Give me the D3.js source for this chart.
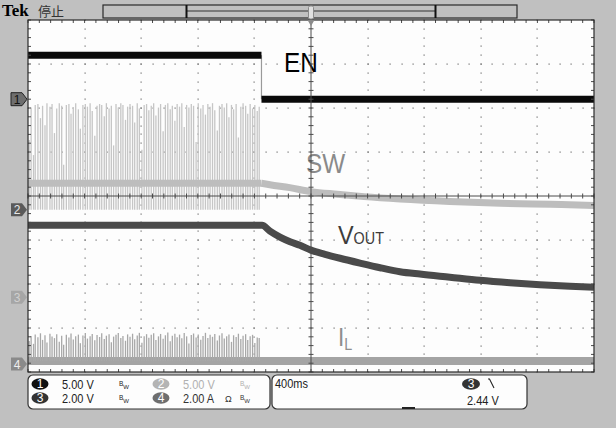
<!DOCTYPE html>
<html>
<head>
<meta charset="utf-8">
<script src="https://cdn.jsdelivr.net/npm/d3@7"></script>
<style>
  body { margin: 0; background: #c0c0c0; }
  svg { display: block; font-family: "Liberation Sans", Arial, sans-serif; }
</style>
</head>
<body>
<svg id="scope" width="616" height="428"></svg>
<script>
// ---- acquisition settings ----
const timeDomain = [-2000, 2000];          // ms, 400 ms/div, trigger centred
const timePerDiv = 400;
const channelNames = ["1", "2", "3", "4"];
const channelScale = [5.0, 5.0, 2.0, 2.0];  // V/div (A/div for ch4)
const channelUnit = ["V", "V", "V", "A"];
const channelOffset = [2.20, -0.31, -2.30, -3.82]; // ground marker position, divisions from centre
const triggerLevel = 2.44;
const triggerText = "2.44 V";
const timebaseText = "400ms";

// ---- ch1: EN ----
const enLevels = [5.0, 0.0];      // V before / after the edge
const enEdge = -350;              // ms

// ---- ch2: SW ----
const swIdleLevel = 3.0;          // V, node voltage between bursts
const swPulseT = [-1992,-1978,-1961,-1949,-1930,-1912,-1897,-1880,-1866,-1845,-1830,-1813,-1797,-1779,-1762,-1748,-1729,-1711,-1696,-1680,-1663,-1644,-1630,-1612,-1595,-1580,-1561,-1546,-1528,-1512,-1494,-1479,-1461,-1446,-1427,-1411,-1395,-1378,-1362,-1344,-1329,-1311,-1296,-1279,-1261,-1246,-1228,-1213,-1195,-1179,-1162,-1146,-1129,-1112,-1096,-1078,-1063,-1045,-1029,-1012,-995,-980,-962,-946,-929,-913,-896,-879,-863,-846,-830,-812,-797,-779,-763,-746,-729,-713,-696,-680,-662,-647,-629,-613,-596,-580,-562,-547,-529,-513,-496,-480,-462,-447,-430,-413,-397,-380,-366];
const swPulseV = [7.9,11.6,6.2,11.9,12.0,10.4,11.8,9.6,12.1,11.7,12.0,8.7,11.5,12.1,11.8,5.1,11.9,12.0,10.9,11.6,12.1,11.4,9.2,11.9,12.0,11.7,12.1,11.2,8.4,11.8,12.0,11.9,10.6,12.1,11.5,11.8,7.3,12.0,11.6,12.1,11.9,10.2,11.7,12.0,11.8,9.9,12.1,11.5,6.8,11.9,12.0,11.3,11.8,12.1,10.7,11.6,12.0,8.9,11.9,12.1,11.4,11.8,10.1,12.0,11.7,12.1,9.4,11.9,11.6,12.0,11.8,7.7,12.1,11.5,11.9,10.8,12.0,11.7,12.1,11.3,9.0,11.8,12.0,11.6,12.1,10.5,11.9,11.4,12.0,8.2,11.7,12.1,11.8,10.9,12.0,11.5,11.9,11.2,11.7];
const swDecayT = [-350, -290, -150, 0, 185, 375, 630, 980, 1340, 1690, 2000];
const swDecayV = [3.00, 2.83, 2.50, 2.05, 1.75, 1.48, 1.20, 0.92, 0.72, 0.60, 0.48];

// ---- ch3: VOUT ----
const voutT = [-2000, -346, -290, -219, -148, -78, 0, 99, 205, 346, 488, 629, 770, 982, 1194, 1406, 1618, 1830, 2000];
const voutV = [3.27, 3.27, 3.00, 2.73, 2.52, 2.36, 2.14, 1.95, 1.77, 1.55, 1.34, 1.16, 1.05, 0.91, 0.77, 0.66, 0.57, 0.50, 0.45];

// ---- ch4: IL ----
const ilBase = 0.14;              // A
const ilPulseA = [1.05,1.28,0.92,1.35,1.22,1.40,1.10,1.31,0.98,1.38,1.25,1.18,1.36,1.02,1.29,0.88,1.33,1.21,1.39,1.12,1.27,1.34,0.95,1.30,1.41,1.16,1.26,1.37,1.08,1.32,1.23,1.40,1.14,1.29,1.36,0.99,1.25,1.33,1.41,1.19,1.28,1.06,1.35,1.24,1.38,1.13,1.30,1.42,0.97,1.27,1.36,1.20,1.33,1.40,1.09,1.26,1.37,1.15,1.31,1.43,1.04,1.29,1.38,1.22,1.34,1.17,1.41,1.26,0.94,1.32,1.39,1.21,1.35,1.11,1.28,1.42,1.18,1.33,1.24,1.37,1.07,1.30,1.40,1.16,1.27,1.35,1.01,1.31,1.23,1.38,1.14,1.29,1.36,1.10,1.26,1.33,0.96,1.21,1.18];

// ---- layout ----
const svg = d3.select("#scope");
const plot = { left: 28, right: 594, top: 20, bottom: 372 };
const x = d3.scaleLinear().domain(timeDomain).range([plot.left, plot.right]);
const yDiv = d3.scaleLinear().domain([-4, 4]).range([plot.bottom, plot.top]);
const chY = channelScale.map((s, i) =>
  d3.scaleLinear().domain([(-4 - channelOffset[i]) * s, (4 - channelOffset[i]) * s]).range([plot.bottom, plot.top]));

// backgrounds
svg.append("rect").attr("width", 616).attr("height", 428).attr("fill", "#c0c0c0");
svg.append("rect").attr("x", plot.left).attr("y", plot.top)
  .attr("width", plot.right - plot.left).attr("height", plot.bottom - plot.top).attr("fill", "#fdfdfd");

// ---- graticule dots ----
const gDots = svg.append("g").attr("fill", "#6f6f6f");
const vMajor = d3.range(timeDomain[0] + timePerDiv, timeDomain[1], timePerDiv).filter(t => t !== 0);
const hMajor = [-3, -2, -1, 1, 2, 3];
const vMinor = d3.range(-4, 4.001, 0.2);
const hMinor = d3.range(timeDomain[0], timeDomain[1] + 1, timePerDiv / 5);
vMajor.forEach(t => vMinor.forEach(d => {
  gDots.append("rect").attr("x", Math.round(x(t)) - 0.5).attr("y", Math.round(yDiv(d)) - 0.5).attr("width", 1.2).attr("height", 1.2);
}));
hMajor.forEach(d => hMinor.forEach(t => {
  gDots.append("rect").attr("x", Math.round(x(t)) - 0.5).attr("y", Math.round(yDiv(d)) - 0.5).attr("width", 1.2).attr("height", 1.2);
}));

// ---- trace labels ----
const gLab = svg.append("g");
gLab.append("text").attr("x", 284).attr("y", 72).attr("font-size", 27).attr("fill", "#000")
  .attr("transform", "translate(284,0) scale(0.9,1) translate(-284,0)").text("EN");
gLab.append("text").attr("x", 306).attr("y", 173).attr("font-size", 27).attr("fill", "#8a8a8a")
  .attr("transform", "translate(306,0) scale(0.9,1) translate(-306,0)").text("SW");
const vt = gLab.append("text").attr("x", 338).attr("y", 244).attr("fill", "#3c3c3c")
  .attr("transform", "translate(338,0) scale(0.9,1) translate(-338,0)");
vt.append("tspan").attr("font-size", 26).text("V");
vt.append("tspan").attr("font-size", 16).text("OUT");
const it = gLab.append("text").attr("x", 338).attr("y", 346).attr("fill", "#8e8e8e")
  .attr("transform", "translate(338,0) scale(0.9,1) translate(-338,0)");
it.append("tspan").attr("font-size", 25).text("I");
it.append("tspan").attr("font-size", 16).attr("dy", 4).text("L");

// ---- ch4: inductor current ----
const ilPulses = d3.zip(swPulseT, ilPulseA);
svg.append("line").attr("x1", x(timeDomain[0])).attr("x2", x(timeDomain[1]))
  .attr("y1", chY[3](ilBase)).attr("y2", chY[3](ilBase))
  .attr("stroke", "#a4a4a4").attr("stroke-width", 8);
svg.append("g").selectAll("line").data(ilPulses).join("line")
  .attr("x1", d => x(d[0])).attr("x2", d => x(d[0]))
  .attr("y1", chY[3](ilBase)).attr("y2", d => chY[3](d[1]))
  .attr("stroke", "#a8a8a8").attr("stroke-width", 1.3);

// ---- ch2: switch node ----
const swPulses = d3.zip(swPulseT, swPulseV);
svg.append("g").selectAll("line").data(swPulses).join("line")
  .attr("x1", d => x(d[0])).attr("x2", d => x(d[0]))
  .attr("y1", chY[1](0)).attr("y2", d => chY[1](d[1]))
  .attr("stroke", "#c6c6c6").attr("stroke-width", 1.3);
svg.append("line").attr("x1", x(timeDomain[0])).attr("x2", x(enEdge))
  .attr("y1", chY[1](swIdleLevel)).attr("y2", chY[1](swIdleLevel))
  .attr("stroke", "#bdbdbd").attr("stroke-width", 7);
const swLine = d3.line().x(d => x(d[0])).y(d => chY[1](d[1])).curve(d3.curveMonotoneX);
svg.append("path").attr("d", swLine(d3.zip(swDecayT, swDecayV)))
  .attr("fill", "none").attr("stroke", "#bdbdbd").attr("stroke-width", 7);

// ---- ch3: output voltage ----
const voutLine = d3.line().x(d => x(d[0])).y(d => chY[2](d[1])).curve(d3.curveMonotoneX);
svg.append("path").attr("d", voutLine(d3.zip(voutT, voutV)))
  .attr("fill", "none").attr("stroke", "#4a4a4a").attr("stroke-width", 7);

// ---- ch1: enable ----
svg.append("line").attr("x1", x(enEdge)).attr("x2", x(enEdge))
  .attr("y1", chY[0](enLevels[0])).attr("y2", chY[0](enLevels[1]))
  .attr("stroke", "#9a9a9a").attr("stroke-width", 1.2);
svg.append("line").attr("x1", x(timeDomain[0])).attr("x2", x(enEdge))
  .attr("y1", chY[0](enLevels[0])).attr("y2", chY[0](enLevels[0]))
  .attr("stroke", "#0a0a0a").attr("stroke-width", 7);
svg.append("line").attr("x1", x(enEdge)).attr("x2", x(timeDomain[1]))
  .attr("y1", chY[0](enLevels[1])).attr("y2", chY[0](enLevels[1]))
  .attr("stroke", "#0a0a0a").attr("stroke-width", 7);

// ---- centre crosshair and edge ticks ----
const gCross = svg.append("g").attr("stroke", "#4a4a4a").attr("stroke-width", 1);
gCross.append("line").attr("x1", x(0)).attr("x2", x(0)).attr("y1", plot.top).attr("y2", plot.bottom);
gCross.append("line").attr("x1", plot.left).attr("x2", plot.right).attr("y1", yDiv(0)).attr("y2", yDiv(0));
vMinor.forEach(d => gCross.append("line").attr("x1", x(0) - 2.5).attr("x2", x(0) + 2.5).attr("y1", yDiv(d)).attr("y2", yDiv(d)));
hMinor.forEach(t => gCross.append("line").attr("x1", x(t)).attr("x2", x(t)).attr("y1", yDiv(0) - 2.5).attr("y2", yDiv(0) + 2.5));
hMinor.forEach(t => {
  gCross.append("line").attr("x1", x(t)).attr("x2", x(t)).attr("y1", plot.top).attr("y2", plot.top + 3);
  gCross.append("line").attr("x1", x(t)).attr("x2", x(t)).attr("y1", plot.bottom - 3).attr("y2", plot.bottom);
});
vMinor.forEach(d => {
  gCross.append("line").attr("x1", plot.left).attr("x2", plot.left + 3).attr("y1", yDiv(d)).attr("y2", yDiv(d));
  gCross.append("line").attr("x1", plot.right - 3).attr("x2", plot.right).attr("y1", yDiv(d)).attr("y2", yDiv(d));
});
svg.append("rect").attr("x", plot.left).attr("y", plot.top)
  .attr("width", plot.right - plot.left).attr("height", plot.bottom - plot.top)
  .attr("fill", "none").attr("stroke", "#2a2a2a").attr("stroke-width", 1.2);

// ---- ground markers on the left ----
const markerFill = ["#6e6e6e", "#5a5a5a", "#a6a6a6", "#8a8a8a"];
const markerText = ["#111", "#e8e8e8", "#d0d0d0", "#eeeeee"];
channelNames.forEach((n, i) => {
  const cy = yDiv(channelOffset[i]);
  svg.append("path")
    .attr("d", `M11,${cy - 6.5} L22,${cy - 6.5} L27,${cy} L22,${cy + 6.5} L11,${cy + 6.5} Z`)
    .attr("fill", markerFill[i]).attr("stroke", i === 0 ? "#222" : "none").attr("stroke-width", 1);
  svg.append("text").attr("x", 17).attr("y", cy + 4.5).attr("text-anchor", "middle")
    .attr("font-size", 12).attr("fill", markerText[i]).text(n);
});

// ---- top status bar ----
svg.append("text").attr("x", 2).attr("y", 16).attr("font-size", 17).attr("font-weight", "bold")
  .style("font-family", "'Liberation Serif', 'DejaVu Serif', serif").attr("fill", "#000").text("Tek");
svg.append("text").attr("x", 38).attr("y", 16).attr("font-size", 13).attr("fill", "#333")
  .style("font-family", "'Noto Sans CJK SC', sans-serif").text("停止");
svg.append("rect").attr("x", 103).attr("y", 5).attr("width", 414).attr("height", 13)
  .attr("fill", "#c0c0c0").attr("stroke", "#2a2a2a").attr("stroke-width", 1.2);
svg.append("line").attr("x1", 187).attr("x2", 435).attr("y1", 11).attr("y2", 11).attr("stroke", "#333").attr("stroke-width", 1);
[186.5, 435.5].forEach(bx => svg.append("line").attr("x1", bx).attr("x2", bx).attr("y1", 5).attr("y2", 18)
  .attr("stroke", "#111").attr("stroke-width", 2));
svg.append("rect").attr("x", x(0) - 2.5).attr("y", 6).attr("width", 5).attr("height", 13).attr("rx", 1.5)
  .attr("fill", "#e0e0e0").attr("stroke", "#8a8a8a");
svg.append("path").attr("d", `M${x(0) - 3.5},20 L${x(0) + 3.5},20 L${x(0)},26 Z`).attr("fill", "#8a8a8a");

// ---- bottom readout ----
svg.append("rect").attr("x", 28).attr("y", 375).attr("width", 242).attr("height", 34).attr("rx", 5)
  .attr("fill", "#fdfdfd").attr("stroke", "#333").attr("stroke-width", 1.2);
svg.append("rect").attr("x", 272).attr("y", 375).attr("width", 255).attr("height", 34).attr("rx", 5)
  .attr("fill", "#fdfdfd").attr("stroke", "#333").attr("stroke-width", 1.2);

const badgeFill = ["#111", "#b4b4b4", "#333", "#6e6e6e"];
const readoutColor = ["#222", "#b0b0b0", "#222", "#333"];
const readPos = [[40, 384], [161, 384], [40, 398], [161, 398]];
channelNames.forEach((n, i) => {
  const [bx, by] = readPos[i];
  svg.append("ellipse").attr("cx", bx).attr("cy", by).attr("rx", 8.5).attr("ry", 5.8).attr("fill", badgeFill[i]);
  svg.append("text").attr("x", bx).attr("y", by + 4.3).attr("text-anchor", "middle").attr("font-size", 12)
    .attr("fill", "#fff").text(n);
  svg.append("text").attr("x", bx + 22).attr("y", by + 5).attr("font-size", 12.5).attr("fill", readoutColor[i])
    .attr("transform", `translate(${bx + 22},0) scale(0.88,1) translate(${-(bx + 22)},0)`)
    .text(channelScale[i].toFixed(2) + " " + channelUnit[i]);
  // bandwidth-limit glyph (with 50 Ω termination on ch4)
  const bwx = bx + 79;
  const bw = svg.append("text").attr("x", i === 3 ? bwx - 15 : bwx).attr("y", by + 3).attr("fill", readoutColor[i]);
  if (i === 3) bw.append("tspan").attr("font-size", 9).attr("dy", 1).text("Ω ");
  bw.append("tspan").attr("x", bwx).attr("y", by + 1.5).attr("font-size", 6.5).text("B");
  bw.append("tspan").attr("dy", 3).attr("font-size", 6).text("W");
});

svg.append("text").attr("x", 275).attr("y", 388).attr("font-size", 12.5).attr("fill", "#222")
  .attr("transform", "translate(275,0) scale(0.88,1) translate(-275,0)").text(timebaseText);
svg.append("ellipse").attr("cx", 471).attr("cy", 384).attr("rx", 9).attr("ry", 5.8).attr("fill", "#333");
svg.append("text").attr("x", 471).attr("y", 388.3).attr("text-anchor", "middle").attr("font-size", 12).attr("fill", "#fff").text("3");
svg.append("path").attr("d", "M488,379 L489.5,379 L494,388").attr("fill", "none").attr("stroke", "#222").attr("stroke-width", 1.1);
svg.append("text").attr("x", 467).attr("y", 405).attr("font-size", 12.5).attr("fill", "#222")
  .attr("transform", "translate(467,0) scale(0.88,1) translate(-467,0)").text(triggerText);
svg.append("rect").attr("x", 402).attr("y", 407).attr("width", 13).attr("height", 2).attr("fill", "#222");
</script>
</body>
</html>
